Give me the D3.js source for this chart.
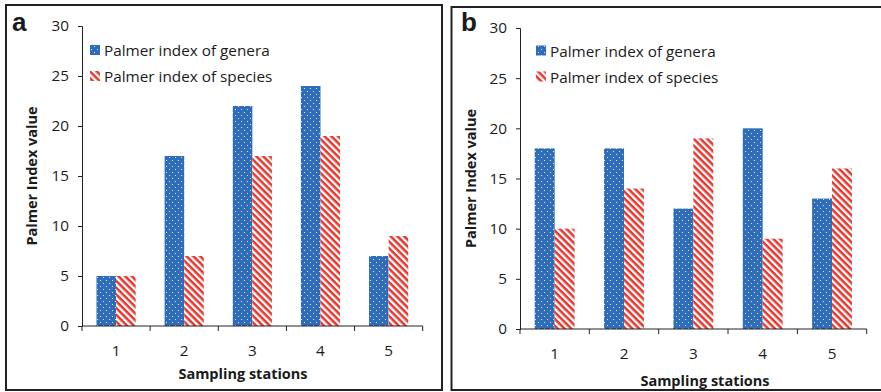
<!DOCTYPE html>
<html>
<head>
<meta charset="utf-8">
<script src="https://cdn.jsdelivr.net/npm/d3@7"></script>
<style>
  html, body { margin: 0; padding: 0; background: #fff; }
  svg { display: block; }
  text { font-family: "Open Sans", Lato, sans-serif; fill: #1a1a1a; }
</style>
</head>
<body>
<svg id="chart" width="881" height="392"></svg>
<script>
// Sampling stations (x categories)
const stations = ["1", "2", "3", "4", "5"];
const seriesNames = ["Palmer index of genera", "Palmer index of species"];
const yTicks = [0, 5, 10, 15, 20, 25, 30];

// Panel a
const generaA = [5, 17, 22, 24, 7];
const speciesA = [5, 7, 17, 19, 9];
// Panel b
const generaB = [18, 18, 12, 20, 13];
const speciesB = [10, 14, 19, 9, 16];

const svg = d3.select("#chart");
const defs = svg.append("defs");

// Blue dotted fill for genera
const dots = defs.append("pattern")
  .attr("id", "dots").attr("patternUnits", "userSpaceOnUse")
  .attr("width", 6).attr("height", 6);
dots.append("rect").attr("width", 6).attr("height", 6).attr("fill", "#2f6db8");
dots.append("rect").attr("x", 1).attr("y", 1).attr("width", 1).attr("height", 1).attr("fill", "#dbe5f4");
dots.append("rect").attr("x", 4).attr("y", 4).attr("width", 1).attr("height", 1).attr("fill", "#dbe5f4");

// Red diagonal stripes for species
const stripes = defs.append("pattern")
  .attr("id", "stripes").attr("patternUnits", "userSpaceOnUse")
  .attr("width", 8).attr("height", 4.8)
  .attr("patternTransform", "rotate(45)");
stripes.append("rect").attr("width", 8).attr("height", 4.8).attr("fill", "#ffffff");
stripes.append("rect").attr("width", 8).attr("height", 2.5).attr("fill", "#e8352c");

const fills = ["url(#dots)", "url(#stripes)"];
const FS = "15.3px";
const FS_TITLE = "14.5px";

function drawPanel(p) {
  const g = svg.append("g");

  g.append("rect")
    .attr("x", p.frame[0]).attr("y", p.frame[1])
    .attr("width", p.frame[2]).attr("height", p.frame[3])
    .attr("fill", "none").attr("stroke", "#222").attr("stroke-width", 2);

  g.append("text").attr("x", p.letterPos[0]).attr("y", p.letterPos[1])
    .style("font-family", "'Liberation Sans', Arial, sans-serif")
    .style("font-weight", "bold").style("font-size", "26px").attr("fill", "#111")
    .text(p.letter);

  const x0 = d3.scaleBand().domain(stations).range([p.left, p.right]).padding(0);
  const x1 = d3.scaleBand().domain(seriesNames).range([0, x0.bandwidth()])
    .paddingInner(0).paddingOuter(0.74);
  const y = d3.scaleLinear().domain([0, 30]).range([p.bottom, p.top]);

  // bars
  const data = [p.genera, p.species];
  seriesNames.forEach((s, si) => {
    g.append("g").selectAll("rect").data(data[si]).join("rect")
      .attr("x", (d, i) => x0(stations[i]) + x1(s))
      .attr("y", d => y(d))
      .attr("width", x1.bandwidth())
      .attr("height", d => y(0) - y(d))
      .attr("fill", fills[si]);
  });

  // y axis
  const yAxis = d3.axisLeft(y).tickValues(yTicks).tickSize(4).tickPadding(9);
  const ya = g.append("g").attr("transform", `translate(${p.left},0)`).call(yAxis);
  ya.select(".domain").attr("stroke", "#222");
  ya.selectAll(".tick line").attr("stroke", "#222");
  ya.selectAll("text").style("font-family", null).style("font-size", FS).attr("fill", "#1a1a1a");

  // x axis with ticks at band edges
  const xa = g.append("g").attr("transform", `translate(0,${p.bottom})`);
  xa.append("line").attr("x1", p.left).attr("x2", p.right).attr("stroke", "#222");
  const edges = stations.map(s => x0(s)).concat([p.right]);
  xa.selectAll(".edge").data(edges).join("line").attr("class", "edge")
    .attr("x1", d => d).attr("x2", d => d).attr("y1", 0).attr("y2", 5)
    .attr("stroke", "#222");
  xa.selectAll(".lbl").data(stations).join("text").attr("class", "lbl")
    .attr("x", d => x0(d) + x0.bandwidth() / 2).attr("y", p.xLabelDy)
    .attr("text-anchor", "middle").attr("dominant-baseline", "central")
    .style("font-size", FS).text(d => d);

  // axis titles
  g.append("text")
    .attr("transform", `translate(${p.yTitleX},${(p.top + p.bottom) / 2}) rotate(-90)`)
    .attr("text-anchor", "middle").attr("dominant-baseline", "central")
    .style("font-size", FS_TITLE).style("font-weight", "bold")
    .text("Palmer Index value");
  g.append("text")
    .attr("x", p.xTitleX).attr("y", p.xTitleY)
    .attr("text-anchor", "middle").attr("dominant-baseline", "central")
    .style("font-size", FS_TITLE).style("font-weight", "bold")
    .text("Sampling stations");

  // legend
  const lg = g.append("g");
  seriesNames.forEach((s, si) => {
    const cy = p.legendY[si];
    lg.append("rect").attr("x", p.legendX).attr("y", cy - 5)
      .attr("width", 10).attr("height", 10).attr("fill", fills[si]);
    lg.append("text").attr("x", p.legendX + 14).attr("y", cy)
      .attr("dominant-baseline", "central").style("font-size", FS).text(s);
  });
}

drawPanel({
  letter: "a", letterPos: [12, 31],
  frame: [6, 5, 436, 385],
  left: 82, right: 422.7, top: 26, bottom: 326,
  genera: generaA, species: speciesA,
  xLabelDy: 24, yTitleX: 31, xTitleX: 243, xTitleY: 373,
  legendX: 90, legendY: [50, 76]
});

drawPanel({
  letter: "b", letterPos: [461, 31],
  frame: [451.5, 7, 440, 383],
  left: 520, right: 866.7, top: 28, bottom: 329,
  genera: generaB, species: speciesB,
  xLabelDy: 24, yTitleX: 470, xTitleX: 705, xTitleY: 380,
  legendX: 536, legendY: [50.5, 76.5]
});
</script>
</body>
</html>
